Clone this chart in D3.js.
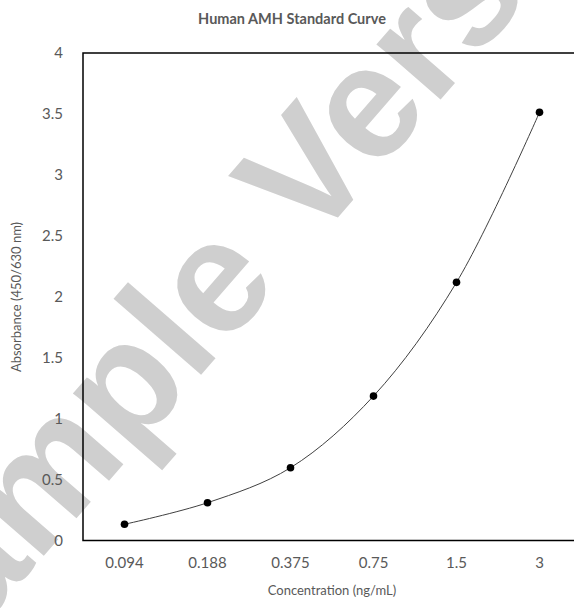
<!DOCTYPE html>
<html>
<head>
<meta charset="utf-8">
<script src="https://cdn.jsdelivr.net/npm/d3@7"></script>
<style>
  body { margin: 0; background: #fff; }
  svg { display: block; }
</style>
</head>
<body>
<script>
// data
var concentrations = ["0.094", "0.188", "0.375", "0.75", "1.5", "3"];
var absorbance = [0.133, 0.31, 0.597, 1.185, 2.118, 3.513];
var yTicks = [0, 0.5, 1, 1.5, 2, 2.5, 3, 3.5, 4];

var W = 574, H = 608;
var plot = {left: 83, top: 53, right: 581, bottom: 540.5};

var svg = d3.select("body").append("svg")
    .attr("width", W)
    .attr("height", H);

svg.append("rect").attr("width", W).attr("height", H).attr("fill", "#fff");

// watermark behind the chart
svg.append("text")
    .attr("transform", "translate(-92,712) rotate(-49)")
    .attr("font-family", "Liberation Sans, Arial, sans-serif")
    .attr("font-size", 160)
    .attr("font-weight", "bold")
    .attr("fill", "#cfcfcf")
    .text("Sample Version");

var x = d3.scaleBand()
    .domain(concentrations)
    .range([plot.left, plot.right]);

var y = d3.scaleLinear()
    .domain([0, 4])
    .range([plot.bottom, plot.top]);

var font = "Lato, 'Open Sans', sans-serif";

// y axis labels
var yAxis = d3.axisLeft(y).tickValues(yTicks).tickSize(0).tickPadding(20)
    .tickFormat(function(d) { return d; });
var gy = svg.append("g")
    .attr("transform", "translate(" + plot.left + ",0)")
    .call(yAxis);
gy.select(".domain").remove();
gy.selectAll("text")
    .attr("font-family", font)
    .attr("font-size", 15)
    .attr("fill", "#595959");

// x axis labels
var xAxis = d3.axisBottom(x).tickSize(0).tickPadding(17);
var gx = svg.append("g")
    .attr("transform", "translate(0," + plot.bottom + ")")
    .call(xAxis);
gx.select(".domain").remove();
gx.selectAll("text")
    .attr("font-family", font)
    .attr("font-size", 15)
    .attr("fill", "#595959");

// plot frame
svg.append("rect")
    .attr("x", plot.left)
    .attr("y", plot.top)
    .attr("width", plot.right - plot.left)
    .attr("height", plot.bottom - plot.top)
    .attr("fill", "none")
    .attr("stroke", "#000")
    .attr("stroke-width", 1.5);

// curve
var line = d3.line()
    .x(function(d, i) { return x(concentrations[i]) + x.bandwidth() / 2; })
    .y(function(d) { return y(d); })
    .curve(d3.curveCatmullRom.alpha(0.5));

svg.append("path")
    .datum(absorbance)
    .attr("d", line)
    .attr("fill", "none")
    .attr("stroke", "#404040")
    .attr("stroke-width", 1);

svg.selectAll("circle.pt")
    .data(absorbance)
    .enter()
    .append("circle")
    .attr("class", "pt")
    .attr("cx", function(d, i) { return x(concentrations[i]) + x.bandwidth() / 2; })
    .attr("cy", function(d) { return y(d); })
    .attr("r", 3.8)
    .attr("fill", "#000");

// titles
svg.append("text")
    .attr("x", 292)
    .attr("y", 24)
    .attr("text-anchor", "middle")
    .attr("font-family", font)
    .attr("font-size", 14.5)
    .attr("font-weight", "bold")
    .attr("fill", "#595959")
    .text("Human AMH Standard Curve");

svg.append("text")
    .attr("x", 332)
    .attr("y", 595)
    .attr("text-anchor", "middle")
    .attr("font-family", font)
    .attr("font-size", 13)
    .attr("fill", "#595959")
    .text("Concentration (ng/mL)");

svg.append("text")
    .attr("transform", "translate(21,297) rotate(-90)")
    .attr("text-anchor", "middle")
    .attr("font-family", font)
    .attr("font-size", 13)
    .attr("fill", "#595959")
    .text("Absorbance (450/630 nm)");
</script>
</body>
</html>
